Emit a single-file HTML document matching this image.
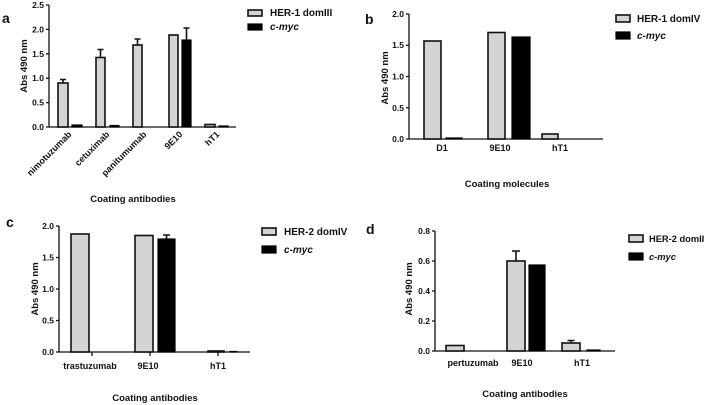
<!DOCTYPE html>
<html><head><meta charset="utf-8"><style>
html,body{margin:0;padding:0;background:#fff}
svg{display:block}
text{font-family:"Liberation Sans",Arial,sans-serif;fill:#111}
.t{font-size:8.5px;font-weight:bold;text-anchor:end}
.x{font-size:9px;font-weight:bold;text-anchor:middle}
.ti{font-size:9.5px;font-weight:bold;text-anchor:middle}
.lg{font-size:10px;font-weight:bold}
.p{font-size:14px;font-weight:bold}
.g{fill:#d4d4d4;stroke:#111;stroke-width:1.6}
.k{fill:#000;stroke:#000;stroke-width:1.2}
.ax{stroke:#111;stroke-width:1.3;fill:none}
.eb{stroke:#111;stroke-width:1.6;fill:none}
</style></head><body>
<svg width="708" height="405" viewBox="0 0 708 405" xmlns="http://www.w3.org/2000/svg">
<!-- Panel a -->
<text class="p" x="2" y="23">a</text>
<path class="ax" d="M49,5V127H236M46,5H49M46,29.4H49M46,53.8H49M46,78.2H49M46,102.6H49M46,127H49"/>
<text class="t" x="44" y="8">2.5</text><text class="t" x="44" y="32.4">2.0</text><text class="t" x="44" y="56.8">1.5</text><text class="t" x="44" y="81.2">1.0</text><text class="t" x="44" y="105.6">0.5</text><text class="t" x="44" y="130">0.0</text>
<text class="ti" transform="translate(27,66) rotate(-90)">Abs 490 nm</text>
<path class="eb" d="M63,83V79.5M60,79.5H66M100.5,57V49.5M97.5,49.5H103.5M137.5,45V39M134.5,39H140.5M186.5,40V28M183.5,28H189.5"/>
<rect class="g" x="58" y="83" width="10" height="44"/>
<rect class="k" x="72" y="125" width="10" height="2"/>
<rect class="g" x="96" y="57.5" width="9" height="69.5"/>
<rect class="k" x="110" y="125.5" width="9" height="1.5"/>
<rect class="g" x="133" y="45" width="9" height="82"/>
<rect class="g" x="169" y="35" width="9" height="92"/>
<rect class="k" x="182" y="40" width="9" height="87"/>
<rect class="g" x="205" y="124.5" width="10" height="2.5"/>
<rect class="k" x="219" y="126" width="9" height="1"/>
<g class="x" style="text-anchor:end">
<text transform="translate(72,135) rotate(-45)">nimotuzumab</text>
<text transform="translate(110,135) rotate(-45)">cetuximab</text>
<text transform="translate(147,135) rotate(-45)">panitumumab</text>
<text transform="translate(183,135) rotate(-45)">9E10</text>
<text transform="translate(220,135) rotate(-45)">hT1</text>
</g>
<text class="ti" x="133" y="202">Coating antibodies</text>
<rect class="g" x="248" y="10" width="14" height="6"/><text class="lg" x="270" y="16">HER-1 domIII</text>
<rect class="k" x="248" y="24" width="14" height="6"/><text class="lg" x="270" y="30" font-style="italic">c-myc</text>

<!-- Panel b -->
<text class="p" x="365" y="24">b</text>
<path class="ax" d="M409,14V139H603M406,14H409M406,45.25H409M406,76.5H409M406,107.75H409M406,139H409"/>
<text class="t" x="404" y="17">2.0</text><text class="t" x="404" y="48">1.5</text><text class="t" x="404" y="79.5">1.0</text><text class="t" x="404" y="111">0.5</text><text class="t" x="404" y="142">0.0</text>
<text class="ti" transform="translate(388,78) rotate(-90)">Abs 490 nm</text>
<rect class="g" x="424" y="41" width="17" height="98"/>
<rect class="k" x="446" y="138" width="16" height="1"/>
<rect class="g" x="488" y="32.5" width="17" height="106.5"/>
<rect class="k" x="512" y="37" width="18" height="102"/>
<rect class="g" x="542" y="134" width="16" height="5"/>
<text class="x" x="442" y="151">D1</text><text class="x" x="500" y="151">9E10</text><text class="x" x="560" y="151">hT1</text>
<text class="ti" x="507" y="187">Coating molecules</text>
<rect class="g" x="616" y="15" width="14" height="7"/><text class="lg" x="637" y="22">HER-1 domIV</text>
<rect class="k" x="616" y="32" width="14" height="7"/><text class="lg" x="637" y="39" font-style="italic">c-myc</text>

<!-- Panel c -->
<text class="p" x="6" y="227">c</text>
<path class="ax" d="M59,226V352H250M56,226H59M56,257.5H59M56,289H59M56,320.5H59M56,352H59M92,352v4M150,352v4M218,352v4"/>
<text class="t" x="54" y="229">2.0</text><text class="t" x="54" y="260.5">1.5</text><text class="t" x="54" y="292">1.0</text><text class="t" x="54" y="323.5">0.5</text><text class="t" x="54" y="355">0.0</text>
<text class="ti" transform="translate(38,289) rotate(-90)">Abs 490 nm</text>
<path class="eb" d="M166.5,239V235M163,235H170"/>
<rect class="g" x="71" y="234" width="18" height="118"/>
<rect class="g" x="135" y="235.5" width="18" height="116.5"/>
<rect class="k" x="158" y="239" width="17" height="113"/>
<rect class="g" x="208" y="351" width="16" height="1"/>
<rect class="k" x="230" y="351.5" width="7" height="0.5"/>
<text class="x" x="90" y="369">trastuzumab</text><text class="x" x="148" y="369">9E10</text><text class="x" x="218" y="369">hT1</text>
<text class="ti" x="155" y="401">Coating antibodies</text>
<rect class="g" x="262" y="228" width="14" height="7"/><text class="lg" x="284" y="235">HER-2 domIV</text>
<rect class="k" x="262" y="246" width="14" height="7"/><text class="lg" x="284" y="253" font-style="italic">c-myc</text>

<!-- Panel d -->
<text class="p" x="366" y="234">d</text>
<path class="ax" d="M435,231V351H615M432,231H435M432,261H435M432,291H435M432,321H435M432,351H435"/>
<text class="t" x="430" y="234">0.8</text><text class="t" x="430" y="264">0.6</text><text class="t" x="430" y="294">0.4</text><text class="t" x="430" y="324">0.2</text><text class="t" x="430" y="354">0.0</text>
<text class="ti" transform="translate(412,289) rotate(-90)">Abs 490 nm</text>
<path class="eb" d="M516,261V251M512,251H520M571,343V340.5M567.5,340.5H574.5"/>
<rect class="g" x="446" y="345.5" width="18" height="5.5"/>
<rect class="g" x="507" y="261" width="18" height="90"/>
<rect class="k" x="529" y="265" width="16" height="86"/>
<rect class="g" x="562" y="343" width="18" height="8"/>
<rect class="k" x="587" y="350" width="13" height="1"/>
<text class="x" x="473" y="366">pertuzumab</text><text class="x" x="522" y="366">9E10</text><text class="x" x="582" y="366">hT1</text>
<text class="ti" x="525" y="397">Coating antibodies</text>
<rect class="g" x="629" y="235" width="14" height="7"/><text class="lg" x="649" y="242" style="font-size:9.3px">HER-2 domII</text>
<rect class="k" x="629" y="253" width="14" height="7"/><text class="lg" x="649" y="260" font-style="italic" style="font-size:9.3px">c-myc</text>
</svg>
</body></html>
